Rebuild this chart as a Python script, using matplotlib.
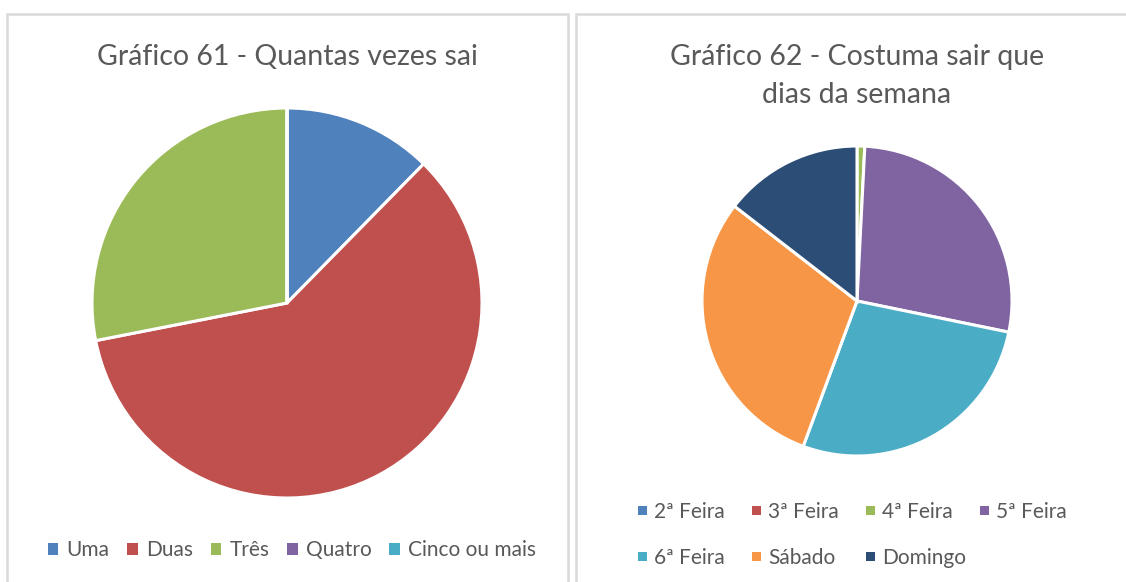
import matplotlib
matplotlib.use("Agg")
import matplotlib.pyplot as plt
from matplotlib.patches import Rectangle, Patch

# Gráfico 61 - quantas vezes sai
freq_labels = ["Uma", "Duas", "Três", "Quatro", "Cinco ou mais"]
freq_values = [11, 53, 25, 0, 0]
freq_colors = ["#4F81BD", "#C0504D", "#9BBB59", "#8064A2", "#4BACC6"]

# Gráfico 62 - dias da semana
day_labels = ["2ª Feira", "3ª Feira", "4ª Feira", "5ª Feira", "6ª Feira", "Sábado", "Domingo"]
day_values = [0, 0, 1, 34, 34, 37, 18]
day_colors = ["#4F81BD", "#C0504D", "#9BBB59", "#8064A2", "#4BACC6", "#F79646", "#2C4D75"]

W, H = 1126, 582
DPI = 100
TEXT = "#595959"
FONT = "Lato"

plt.rcParams["font.family"] = [FONT, "DejaVu Sans"]

fig = plt.figure(figsize=(W / DPI, H / DPI), dpi=DPI)
fig.patch.set_facecolor("white")


def px_axes(cx, cy, r):
    # axes square around a pie centre given in pixels from the top-left corner
    return fig.add_axes([(cx - r) / W, (H - cy - r) / H, 2 * r / W, 2 * r / H])


def draw_pie(ax, values, colors):
    ax.pie(values, colors=colors, startangle=90, counterclock=False,
           wedgeprops=dict(edgecolor="white", linewidth=2.2))
    ax.set_xlim(-1, 1)
    ax.set_ylim(-1, 1)
    ax.set_aspect("equal")
    ax.axis("off")


# chart frames
for x0, x1 in [(7, 568), (576, 1140)]:
    fig.patches.append(Rectangle((x0 / W, -0.05), (x1 - x0) / W, (H - 14) / H + 0.05,
                                 transform=fig.transFigure, facecolor="none",
                                 edgecolor="#D9D9D9", linewidth=1.8))

ax1 = px_axes(287, 303, 195)
draw_pie(ax1, freq_values, freq_colors)

ax2 = px_axes(857, 301, 155)
draw_pie(ax2, day_values, day_colors)

fig.text(287 / W, 1 - 57 / H, "Gráfico 61 - Quantas vezes sai", ha="center", va="center",
         fontsize=20.5, color=TEXT)
fig.text(857 / W, 1 - 76 / H, "Gráfico 62 - Costuma sair que\ndias da semana", ha="center",
         va="center", fontsize=20.5, color=TEXT, linespacing=1.55)

h1 = [Patch(facecolor=c, edgecolor="none") for c in freq_colors]
fig.legend(h1, freq_labels, loc="center", bbox_to_anchor=(292 / W, 1 - 550 / H), ncol=5,
           frameon=False, fontsize=15, labelcolor=TEXT, handlelength=0.5, handleheight=0.5,
           handletextpad=0.4, columnspacing=0.85)

# right-hand legend: fixed-width grid, four entries per row
x_start, pitch, row_y, row_gap, box = 638, 114, 510, 46, 9
for i, (label, color) in enumerate(zip(day_labels, day_colors)):
    col, row = i % 4, i // 4
    x = x_start + col * pitch
    y = row_y + row * row_gap
    fig.patches.append(Rectangle((x / W, 1 - (y + box / 2) / H), box / W, box / H,
                                 transform=fig.transFigure, facecolor=color,
                                 edgecolor="none"))
    fig.text((x + box + 7) / W, 1 - y / H, label, ha="left", va="center_baseline",
             fontsize=15, color=TEXT)

fig.savefig("out.png", dpi=DPI, facecolor="white")
